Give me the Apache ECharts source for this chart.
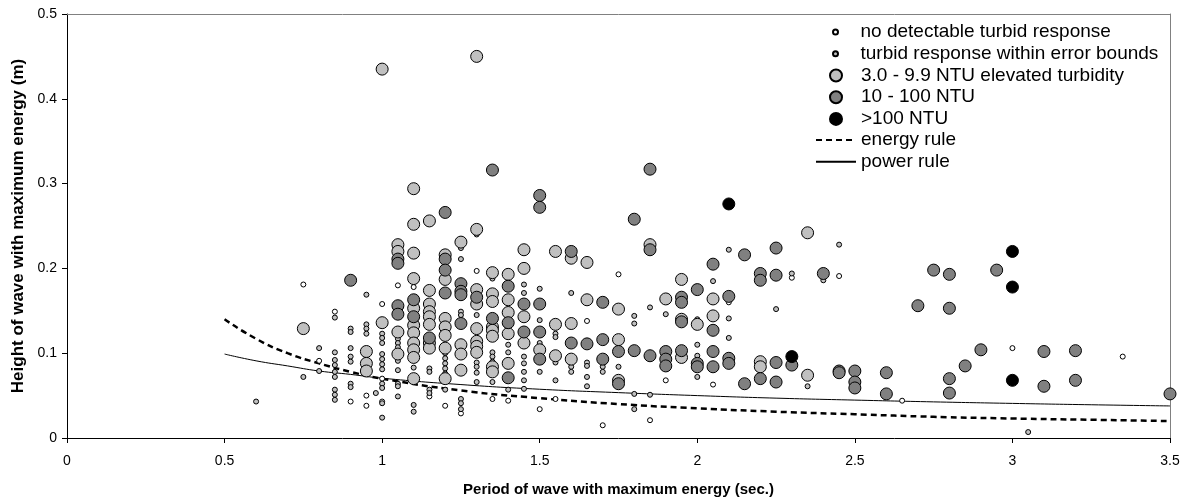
<!DOCTYPE html>
<html><head><meta charset="utf-8">
<script src="https://cdn.jsdelivr.net/npm/echarts@6/dist/echarts.min.js"></script>
<style>html,body{margin:0;padding:0;background:#fff}#c{width:1184px;height:502px}</style>
</head><body><div id="c"></div>
<script>
const xTicks = [0, 0.5, 1, 1.5, 2, 2.5, 3, 3.5];
const yTicks = [0, 0.1, 0.2, 0.3, 0.4, 0.5];
const seriesNames = ['no detectable turbid response','turbid response within error bounds','3.0 - 9.9 NTU elevated turbidity','10 - 100 NTU','>100 NTU','energy rule','power rule'];

const noResponse = [[0.75,0.181],[1.05,0.180],[0.95,0.050],[0.95,0.038],[1.0,0.043],[1.0,0.158],[1.1,0.178],[1.25,0.029],[1.35,0.046],[1.5,0.034],[1.55,0.046],[1.7,0.015],[1.75,0.193],[1.85,0.021],[1.9,0.068],[2.05,0.063],[2.1,0.16],[2.3,0.189],[2.45,0.191],[2.65,0.044],[3.0,0.106],[3.35,0.096],[1.65,0.138],[1.4,0.044],[0.85,0.149],[0.9,0.043],[1.2,0.038],[1.3,0.197],[1.0,0.070],[0.8,0.091],[1.15,0.049]];

const withinError = [[0.6,0.043],[0.75,0.072],[0.8,0.106],[0.8,0.079],[0.85,0.142],[0.85,0.101],[0.85,0.092],[0.85,0.086],[0.85,0.078],[0.85,0.072],[0.85,0.057],[0.85,0.051],[0.85,0.045],[0.9,0.129],[0.9,0.125],[0.9,0.106],[0.9,0.096],[0.9,0.090],[0.9,0.064],[0.9,0.060],[0.95,0.169],[0.95,0.134],[0.95,0.129],[0.95,0.123],[0.98,0.053],[1.0,0.123],[1.0,0.118],[1.0,0.112],[1.0,0.099],[1.0,0.093],[1.0,0.087],[1.0,0.081],[1.0,0.064],[1.0,0.059],[1.0,0.041],[1.0,0.024],[1.05,0.117],[1.05,0.112],[1.05,0.107],[1.05,0.091],[1.05,0.080],[1.05,0.064],[1.05,0.061],[1.05,0.049],[1.1,0.083],[1.1,0.039],[1.1,0.031],[1.15,0.082],[1.15,0.078],[1.15,0.057],[1.15,0.053],[1.2,0.100],[1.2,0.094],[1.2,0.088],[1.2,0.082],[1.2,0.076],[1.2,0.057],[1.25,0.224],[1.25,0.211],[1.25,0.149],[1.25,0.145],[1.25,0.046],[1.25,0.041],[1.25,0.034],[1.3,0.145],[1.3,0.089],[1.3,0.084],[1.3,0.077],[1.3,0.066],[1.35,0.188],[1.35,0.101],[1.35,0.096],[1.35,0.090],[1.35,0.066],[1.4,0.110],[1.4,0.101],[1.4,0.057],[1.45,0.181],[1.45,0.171],[1.45,0.096],[1.45,0.088],[1.45,0.078],[1.45,0.068],[1.45,0.058],[1.5,0.176],[1.5,0.139],[1.5,0.112],[1.5,0.078],[1.55,0.123],[1.55,0.119],[1.55,0.089],[1.55,0.068],[1.6,0.171],[1.6,0.084],[1.6,0.078],[1.65,0.089],[1.65,0.085],[1.65,0.072],[1.65,0.061],[1.7,0.084],[1.7,0.078],[1.75,0.084],[1.8,0.144],[1.8,0.135],[1.8,0.052],[1.8,0.034],[1.85,0.154],[1.85,0.051],[1.9,0.146],[2.0,0.140],[2.0,0.110],[2.0,0.097],[2.0,0.072],[2.05,0.185],[2.1,0.222],[2.1,0.141],[2.1,0.118],[2.25,0.152],[2.3,0.194],[2.35,0.061],[2.4,0.186],[2.45,0.228],[3.05,0.007],[1.3,0.240]];

const elevated = [[0.75,0.129],[0.95,0.102],[0.95,0.088],[0.95,0.079],[1.0,0.435],[1.0,0.136],[1.05,0.228],[1.05,0.220],[1.05,0.125],[1.05,0.099],[1.1,0.294],[1.1,0.252],[1.1,0.218],[1.1,0.188],[1.1,0.153],[1.1,0.133],[1.1,0.124],[1.1,0.112],[1.1,0.104],[1.1,0.095],[1.1,0.070],[1.15,0.256],[1.15,0.174],[1.15,0.158],[1.15,0.149],[1.15,0.143],[1.15,0.134],[1.15,0.112],[1.15,0.106],[1.2,0.216],[1.2,0.187],[1.2,0.141],[1.2,0.131],[1.2,0.121],[1.2,0.106],[1.2,0.070],[1.25,0.231],[1.25,0.110],[1.25,0.099],[1.25,0.080],[1.3,0.450],[1.3,0.246],[1.3,0.175],[1.3,0.158],[1.3,0.129],[1.3,0.114],[1.3,0.108],[1.3,0.101],[1.35,0.195],[1.35,0.170],[1.35,0.161],[1.35,0.131],[1.35,0.127],[1.35,0.120],[1.35,0.084],[1.35,0.078],[1.4,0.193],[1.4,0.163],[1.4,0.148],[1.4,0.123],[1.4,0.088],[1.45,0.222],[1.45,0.200],[1.45,0.143],[1.45,0.112],[1.5,0.104],[1.55,0.220],[1.55,0.134],[1.55,0.097],[1.6,0.212],[1.6,0.135],[1.6,0.093],[1.65,0.207],[1.65,0.163],[1.75,0.152],[1.75,0.116],[1.75,0.068],[1.85,0.228],[1.9,0.164],[1.95,0.187],[1.95,0.140],[1.95,0.095],[2.0,0.134],[2.05,0.164],[2.05,0.144],[2.2,0.090],[2.2,0.084],[2.35,0.242],[2.35,0.074]];

const ntu10to100 = [[0.9,0.186],[1.05,0.211],[1.05,0.206],[1.05,0.156],[1.05,0.146],[1.1,0.163],[1.1,0.143],[1.15,0.118],[1.2,0.266],[1.2,0.211],[1.2,0.198],[1.2,0.171],[1.25,0.182],[1.25,0.173],[1.25,0.169],[1.25,0.135],[1.3,0.166],[1.35,0.316],[1.35,0.141],[1.4,0.179],[1.4,0.136],[1.4,0.071],[1.45,0.158],[1.45,0.125],[1.5,0.286],[1.5,0.272],[1.5,0.158],[1.5,0.125],[1.5,0.093],[1.6,0.220],[1.6,0.112],[1.65,0.111],[1.7,0.160],[1.7,0.116],[1.7,0.093],[1.75,0.102],[1.75,0.064],[1.8,0.258],[1.8,0.103],[1.85,0.317],[1.85,0.222],[1.85,0.097],[1.9,0.102],[1.9,0.093],[1.9,0.085],[1.95,0.166],[1.95,0.160],[1.95,0.137],[1.95,0.103],[2.0,0.175],[2.0,0.088],[2.0,0.084],[2.05,0.205],[2.05,0.127],[2.05,0.102],[2.05,0.084],[2.1,0.167],[2.1,0.094],[2.1,0.088],[2.15,0.216],[2.15,0.064],[2.2,0.194],[2.2,0.186],[2.2,0.070],[2.25,0.224],[2.25,0.192],[2.25,0.089],[2.25,0.066],[2.3,0.086],[2.4,0.194],[2.45,0.079],[2.45,0.077],[2.5,0.079],[2.5,0.066],[2.5,0.059],[2.6,0.077],[2.6,0.052],[2.7,0.156],[2.75,0.198],[2.8,0.193],[2.8,0.153],[2.8,0.070],[2.8,0.053],[2.85,0.085],[2.9,0.104],[2.95,0.198],[3.1,0.102],[3.1,0.061],[3.2,0.103],[3.2,0.068],[3.5,0.052]];

const ntuOver100 = [[2.1,0.276],[2.3,0.096],[3.0,0.220],[3.0,0.178],[3.0,0.068]];

const energyRule = [[0.5,0.140],[0.6,0.117],[0.7,0.100],[0.8,0.088],[0.9,0.078],[1.0,0.070],[1.25,0.056],[1.5,0.047],[1.75,0.040],[2.0,0.035],[2.25,0.031],[2.5,0.028],[2.75,0.025],[3.0,0.023],[3.25,0.0215],[3.5,0.020]];
const powerRule = [[0.5,0.099],[0.6,0.091],[0.7,0.085],[0.8,0.079],[0.9,0.075],[1.0,0.0705],[1.25,0.063],[1.5,0.0575],[1.75,0.0535],[2.0,0.050],[2.25,0.047],[2.5,0.0447],[2.75,0.0426],[3.0,0.0408],[3.25,0.0392],[3.5,0.0378]];

const FONT = 'Liberation Sans, Arial, sans-serif';
const chart = echarts.init(document.getElementById('c'));
const small = 5, big = 12;
function sc(name, data, color, size) {
  return {name, type:'scatter', data, symbol:'circle', symbolSize:size,
    itemStyle:{color, borderColor:'#000', borderWidth:1, opacity:1}, emphasis:{disabled:true}};
}
const legendText = {fontFamily:FONT, fontSize:19, color:'#000', lineHeight:20};
chart.setOption({
  animation:false,
  grid:{left:67, right:14, top:14, bottom:64, containLabel:false},
  legend:[
    {orient:'vertical', left:832, top:22, padding:0, itemWidth:40, itemHeight:small, itemGap:1.7, selectedMode:false,
     textStyle:legendText, data:[seriesNames[0], seriesNames[1]]},
    {orient:'vertical', left:829, top:65.5, padding:0, itemWidth:40, itemHeight:big, itemGap:1.7, selectedMode:false,
     textStyle:legendText, data:[seriesNames[2], seriesNames[3], seriesNames[4]]},
    {orient:'vertical', left:815, top:130, padding:0, itemWidth:40, itemHeight:12, itemGap:1.7, selectedMode:false,
     itemStyle:{opacity:0}, textStyle:legendText, data:[seriesNames[5], seriesNames[6]]}
  ],
  xAxis:[{type:'value', min:0, max:3.5, interval:0.5, position:'bottom',
    name:'Period of wave with maximum energy (sec.)', nameLocation:'middle', nameGap:44,
    nameTextStyle:{fontFamily:FONT, fontSize:15, fontWeight:'bold', color:'#000'},
    axisLine:{show:true, onZero:false, lineStyle:{color:'#000', width:1}},
    axisTick:{show:true, inside:false, length:5, lineStyle:{color:'#000'}},
    axisLabel:{fontFamily:FONT, fontSize:14, color:'#000', margin:16,
      formatter:v => xTicks.includes(v) ? String(v) : ''},
    splitLine:{show:false}},
   {type:'value', min:0, max:3.5, position:'top', axisLine:{show:true, onZero:false, lineStyle:{color:'#808080'}},
    axisTick:{show:false}, axisLabel:{show:false}, splitLine:{show:false}}],
  yAxis:[{type:'value', min:0, max:0.5, interval:0.1, position:'left',
    name:'Height of wave with maximum energy (m)', nameLocation:'middle', nameGap:34,
    nameTextStyle:{fontFamily:FONT, fontSize:17, fontWeight:'bold', color:'#000'},
    axisLine:{show:true, onZero:false, lineStyle:{color:'#000', width:1}},
    axisTick:{show:true, inside:false, length:5, lineStyle:{color:'#000'}},
    axisLabel:{fontFamily:FONT, fontSize:14, color:'#000', margin:10,
      formatter:v => { const t = yTicks.find(k => Math.abs(k - v) < 1e-9); return t === undefined ? '' : String(t); }},
    splitLine:{show:false}},
   {type:'value', min:0, max:0.5, position:'right', axisLine:{show:true, onZero:false, lineStyle:{color:'#808080'}},
    axisTick:{show:false}, axisLabel:{show:false}, splitLine:{show:false}}],
  series:[
    {name:seriesNames[5], type:'line', data:energyRule, smooth:true, symbol:'none', showSymbol:false,
     lineStyle:{color:'#000', width:2.5, type:[6,4]}, itemStyle:{color:'#000'}, z:1, emphasis:{disabled:true}},
    {name:seriesNames[6], type:'line', data:powerRule, smooth:true, symbol:'none', showSymbol:false,
     lineStyle:{color:'#000', width:1}, itemStyle:{color:'#000'}, z:1, emphasis:{disabled:true}},
    sc(seriesNames[0], noResponse, '#ffffff', small),
    sc(seriesNames[1], withinError, '#c0c0c0', small),
    sc(seriesNames[2], elevated, '#c0c0c0', big),
    sc(seriesNames[3], ntu10to100, '#808080', big),
    sc(seriesNames[4], ntuOver100, '#000000', big)
  ]
});
</script></body></html>
